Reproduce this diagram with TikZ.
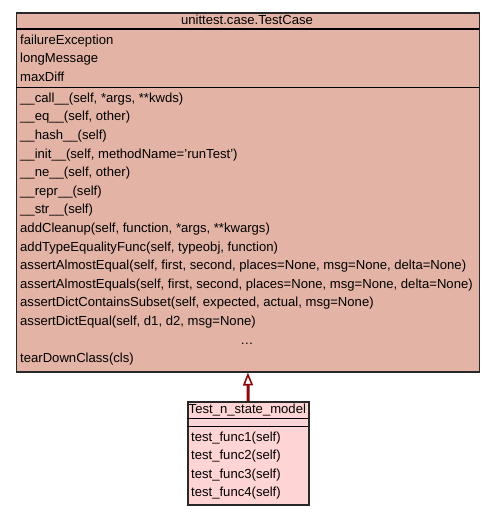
\documentclass[tikz,border=0pt]{standalone}
\usepackage{fontspec}
\setmainfont{Liberation Sans}
\usetikzlibrary{arrows.meta}
\definecolor{bigfill}{RGB}{227,179,165}
\definecolor{smallfill}{RGB}{255,212,212}
\definecolor{arrowred}{RGB}{140,10,10}
\definecolor{frame}{RGB}{40,40,40}
\tikzset{
  classbox/.style={draw=frame, line width=1.8pt, inner sep=0pt, anchor=north west},
  txt/.style={inner sep=0pt, anchor=base west, font=\fontsize{13.1}{14}\selectfont},
  ttl/.style={inner sep=0pt, anchor=base, font=\fontsize{13.1}{14}\selectfont},
  sep/.style={line width=1.5pt, black},
  inherit/.style={draw=arrowred, line width=3pt, -{Triangle[open, length=13pt, width=10pt, line width=1.6pt, fill=white]}}
}
\begin{document}
\begin{tikzpicture}[x=1pt,y=-1pt]
\useasboundingbox (0,0) rectangle (493,515);
% big class box
\node[classbox, fill=bigfill, minimum width=463pt, minimum height=359pt] (tc) at (15.5,11.7) {};
\draw[sep] (15.5,29) -- (478.5,29);
\draw[sep] (15.5,87.7) -- (478.5,87.7);
\node[ttl] (tctitle) at (247,24) {unittest.case.TestCase};
\node[txt] (a1) at (20,44) {failureException};
\node[txt] (a2) at (20,62.6) {longMessage};
\node[txt] (a3) at (20,81.2) {maxDiff};
\foreach \t [count=\i from 0] in {
  {\_\_call\_\_(self, *args, **kwds)},
  {\_\_eq\_\_(self, other)},
  {\_\_hash\_\_(self)},
  {\_\_init\_\_(self, methodName='runTest')},
  {\_\_ne\_\_(self, other)},
  {\_\_repr\_\_(self)},
  {\_\_str\_\_(self)},
  {addCleanup(self, function, *args, **kwargs)},
  {addTypeEqualityFunc(self, typeobj, function)},
  {assertAlmostEqual(self, first, second, places=None, msg=None, delta=None)},
  {assertAlmostEquals(self, first, second, places=None, msg=None, delta=None)},
  {assertDictContainsSubset(self, expected, actual, msg=None)},
  {assertDictEqual(self, d1, d2, msg=None)}}
  \node[txt] (m\i) at (20,102.3+18.6*\i) {\t};
\node[ttl] (dots) at (247,102.3+18.6*13) {\ldots};
\node[txt] (m14) at (20,102.3+18.6*14) {tearDownClass(cls)};
% small class box
\node[classbox, fill=smallfill, minimum width=121.3pt, minimum height=102.7pt] (tm) at (186.7,401) {};
\draw[sep] (186.7,418.7) -- (308,418.7);
\draw[sep] (186.7,426.7) -- (308,426.7);
\node[ttl] (tmtitle) at (247.35,413.3) {Test\_n\_state\_model};
\foreach \i in {1,...,4}
  \node[txt] (f\i) at (191,441+18.6*\i-18.6) {test\_func\i(self)};
% inheritance arrow
\draw[inherit] (tm.north) -- (tc.south);
\end{tikzpicture}
\end{document}
